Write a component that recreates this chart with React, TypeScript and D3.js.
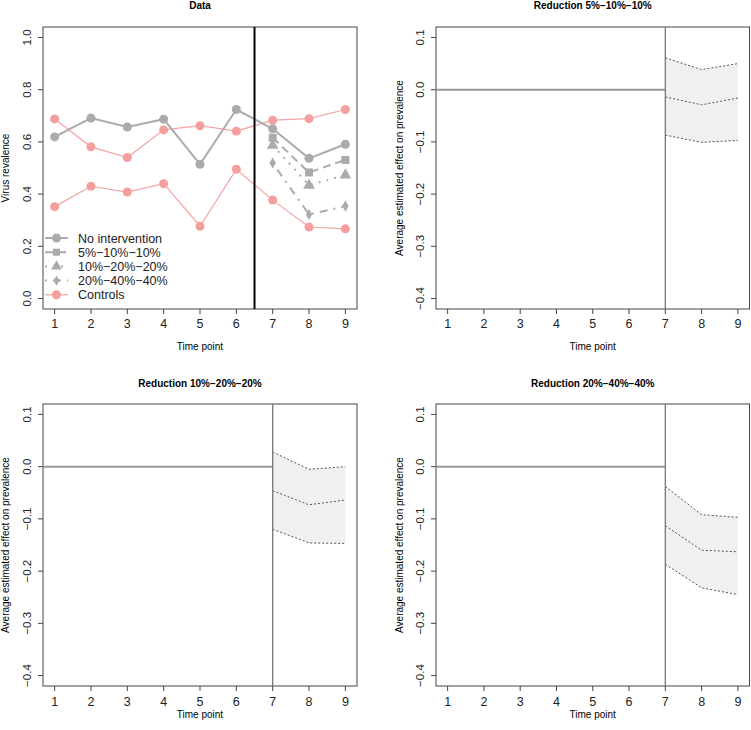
import React, { useEffect, useRef } from "react";
import * as d3 from "d3";

// time axis
const timePoints = [1, 2, 3, 4, 5, 6, 7, 8, 9];
const postTimes = [7, 8, 9];

// data panel values
const noIntervention = [0.619, 0.691, 0.657, 0.687, 0.514, 0.724, 0.65, 0.537, 0.591];
const red5 = [0.616, 0.483, 0.531];
const red10 = [0.587, 0.434, 0.473];
const red20 = [0.519, 0.322, 0.354];
const controlsA = [0.688, 0.581, 0.54, 0.646, 0.662, 0.641, 0.683, 0.689, 0.724];
const controlsB = [0.352, 0.43, 0.408, 0.44, 0.277, 0.495, 0.377, 0.274, 0.267];

// effect bands (upper, mean, lower) at times 7..9
const upper5 = [0.061, 0.0385, 0.05];
const mid5 = [-0.014, -0.029, -0.016];
const lower5 = [-0.087, -0.101, -0.097];
const upper10 = [0.028, -0.005, 0.0];
const mid10 = [-0.046, -0.073, -0.064];
const lower10 = [-0.12, -0.146, -0.147];
const upper20 = [-0.038, -0.092, -0.097];
const mid20 = [-0.113, -0.16, -0.163];
const lower20 = [-0.187, -0.232, -0.245];

const dataTicks = [0, 0.2, 0.4, 0.6, 0.8, 1.0];
const effectTicks = [0.1, 0, -0.1, -0.2, -0.3, -0.4];
const legendLabels = ["No intervention", "5%\u221210%\u221210%", "10%\u221220%\u221220%", "20%\u221240%\u221240%", "Controls"];

const FONT = "'Liberation Sans', Arial, Helvetica, sans-serif";
const GREY = "#ababab";
const PINK_LINE = "#f5a3a3";
const PINK_PT = "#f49e9e";

const fmt = (v: number) => {
    const s = v.toFixed(1);
    return s.startsWith("-") ? "\u2212" + s.slice(1) : s;
};

const App = () => {
    const ref = useRef<HTMLDivElement>(null);

    useEffect(() => {
        const width = 751;
        const height = 730;
        d3.select(ref.current).select("svg").remove();

        const svg = d3
            .select(ref.current)
            .append("svg")
            .attr("width", width)
            .attr("height", height)
            .style("display", "block")
            .style("font-family", FONT);

        svg.append("rect").attr("width", width).attr("height", height).attr("fill", "#fff");

        const drawFrame = (
            box: { x0: number; x1: number; y0: number; y1: number },
            x: d3.ScaleLinear<number, number>,
            y: d3.ScaleLinear<number, number>,
            yTicks: number[],
            opts: { title: string; yLabel: string; titleY: number; tickY: number; xLabelY: number; yLabelX: number }
        ) => {
            const g = svg.append("g");
            // x axis
            timePoints.forEach((t) => {
                g.append("line")
                    .attr("x1", x(t)).attr("x2", x(t))
                    .attr("y1", box.y1).attr("y2", box.y1 + 5)
                    .attr("stroke", "#444");
                g.append("text")
                    .attr("x", x(t)).attr("y", opts.tickY)
                    .attr("text-anchor", "middle")
                    .attr("font-size", 12.5)
                    .attr("fill", "#222")
                    .text(t);
            });
            // y axis
            yTicks.forEach((v) => {
                g.append("line")
                    .attr("x1", box.x0 - 5).attr("x2", box.x0)
                    .attr("y1", y(v)).attr("y2", y(v))
                    .attr("stroke", "#444");
                g.append("text")
                    .attr("transform", `translate(${box.x0 - 12},${y(v)}) rotate(-90)`)
                    .attr("text-anchor", "middle")
                    .attr("font-size", 11.5)
                    .attr("fill", "#222")
                    .text(fmt(v));
            });
            g.append("rect")
                .attr("x", box.x0).attr("y", box.y0)
                .attr("width", box.x1 - box.x0).attr("height", box.y1 - box.y0)
                .attr("fill", "none").attr("stroke", "#444").attr("stroke-width", 1);
            g.append("text")
                .attr("x", (box.x0 + box.x1) / 2).attr("y", opts.titleY)
                .attr("text-anchor", "middle")
                .attr("font-size", 10).attr("font-weight", "bold")
                .text(opts.title);
            g.append("text")
                .attr("x", (box.x0 + box.x1) / 2).attr("y", opts.xLabelY)
                .attr("text-anchor", "middle")
                .attr("font-size", 10)
                .text("Time point");
            g.append("text")
                .attr("transform", `translate(${opts.yLabelX},${(box.y0 + box.y1) / 2}) rotate(-90)`)
                .attr("text-anchor", "middle")
                .attr("font-size", 10)
                .text(opts.yLabel);
            return g;
        };

        // ---------- Data panel ----------
        const box0 = { x0: 43, x1: 357, y0: 27, y1: 309 };
        const x0 = d3.scaleLinear().domain([0.68, 9.32]).range([box0.x0, box0.x1]);
        const y0 = d3.scaleLinear().domain([-0.04, 1.04]).range([box0.y1, box0.y0]);
        const g0 = drawFrame(box0, x0, y0, dataTicks, {
            title: "Data", yLabel: "Virus revalence", titleY: 9, tickY: 328, xLabelY: 350, yLabelX: 9,
        });

        const line0 = d3.line<[number, number]>().x((d) => x0(d[0])).y((d) => y0(d[1]));

        [controlsA, controlsB].forEach((vals) => {
            const pts = timePoints.map((t, i) => [t, vals[i]] as [number, number]);
            g0.append("path").attr("d", line0(pts)).attr("fill", "none")
                .attr("stroke", PINK_LINE).attr("stroke-width", 1.2);
            g0.selectAll(null).data(pts).enter().append("circle")
                .attr("cx", (d) => x0(d[0])).attr("cy", (d) => y0(d[1])).attr("r", 4.5)
                .attr("fill", PINK_PT);
        });

        const series = [
            { times: timePoints, vals: noIntervention, dash: null, sym: d3.symbolCircle, size: 64 },
            { times: postTimes, vals: red5, dash: "8,5", sym: d3.symbolSquare, size: 64 },
            { times: postTimes, vals: red10, dash: "2,6", sym: d3.symbolTriangle, size: 60 },
            { times: postTimes, vals: red20, dash: "2,6,8,6", sym: d3.symbolDiamond, size: 36 },
        ];
        series.forEach((s) => {
            const pts = s.times.map((t, i) => [t, s.vals[i]] as [number, number]);
            g0.append("path").attr("d", line0(pts)).attr("fill", "none")
                .attr("stroke", GREY).attr("stroke-width", 2)
                .attr("stroke-dasharray", s.dash);
            g0.selectAll(null).data(pts).enter().append("path")
                .attr("transform", (d) => `translate(${x0(d[0])},${y0(d[1])})`)
                .attr("d", d3.symbol().type(s.sym).size(s.size)())
                .attr("fill", GREY);
        });

        g0.append("line")
            .attr("x1", x0(6.5)).attr("x2", x0(6.5))
            .attr("y1", box0.y0).attr("y2", box0.y1)
            .attr("stroke", "#000").attr("stroke-width", 2);

        // legend
        const legendItems = [
            { dash: null, sym: d3.symbolCircle, size: 64, col: GREY, lw: 2 },
            { dash: "8,5", sym: d3.symbolSquare, size: 50, col: GREY, lw: 2 },
            { dash: "2,6", sym: d3.symbolTriangle, size: 50, col: GREY, lw: 2 },
            { dash: "2,6,8,6", sym: d3.symbolDiamond, size: 30, col: GREY, lw: 2 },
            { dash: null, sym: d3.symbolCircle, size: 64, col: PINK_PT, lw: 1.2 },
        ];
        legendItems.forEach((it, i) => {
            const ly = 238 + i * 14.2;
            g0.append("line")
                .attr("x1", 45).attr("x2", 68).attr("y1", ly).attr("y2", ly)
                .attr("stroke", i === 4 ? PINK_LINE : it.col).attr("stroke-width", it.lw)
                .attr("stroke-dasharray", it.dash);
            g0.append("path")
                .attr("transform", `translate(56.5,${ly})`)
                .attr("d", d3.symbol().type(it.sym).size(it.size)())
                .attr("fill", it.col);
            g0.append("text")
                .attr("x", 78).attr("y", ly).attr("dy", "0.36em")
                .attr("font-size", 12.5).attr("fill", "#222")
                .text(legendLabels[i]);
        });

        // ---------- Effect panels ----------
        const effects = [
            { title: "Reduction 5%\u221210%\u221210%", box: { x0: 436, x1: 749.5, y0: 27, y1: 309 }, up: upper5, mid: mid5, lo: lower5, tickY: 328, xLabelY: 350, yLabelX: 403, titleY: 9 },
            { title: "Reduction 10%\u221220%\u221220%", box: { x0: 43, x1: 357, y0: 404, y1: 686 }, up: upper10, mid: mid10, lo: lower10, tickY: 706, xLabelY: 718, yLabelX: 9, titleY: 387 },
            { title: "Reduction 20%\u221240%\u221240%", box: { x0: 436, x1: 749.5, y0: 404, y1: 686 }, up: upper20, mid: mid20, lo: lower20, tickY: 706, xLabelY: 718, yLabelX: 403, titleY: 387 },
        ];

        effects.forEach((p) => {
            const x = d3.scaleLinear().domain([0.68, 9.32]).range([p.box.x0, p.box.x1]);
            const y = d3.scaleLinear().domain([-0.42, 0.12]).range([p.box.y1, p.box.y0]);
            const g = drawFrame(p.box, x, y, effectTicks, {
                title: p.title, yLabel: "Average estimated effect on prevalence",
                titleY: p.titleY, tickY: p.tickY, xLabelY: p.xLabelY, yLabelX: p.yLabelX,
            });

            const area = d3.area<number>()
                .x((t) => x(t))
                .y0((t, i) => y(p.lo[i]))
                .y1((t, i) => y(p.up[i]));
            g.append("path").attr("d", area(postTimes)).attr("fill", "#f0f0f0");

            [p.up, p.mid, p.lo].forEach((vals) => {
                const ln = d3.line<number>().x((t) => x(t)).y((t, i) => y(vals[i]));
                g.append("path").attr("d", ln(postTimes)).attr("fill", "none")
                    .attr("stroke", "#555").attr("stroke-width", 1)
                    .attr("stroke-dasharray", "2,2");
            });

            g.append("line")
                .attr("x1", p.box.x0).attr("x2", x(7))
                .attr("y1", y(0)).attr("y2", y(0))
                .attr("stroke", "#999").attr("stroke-width", 2);
            g.append("line")
                .attr("x1", x(7)).attr("x2", x(7))
                .attr("y1", p.box.y0).attr("y2", p.box.y1)
                .attr("stroke", "#777").attr("stroke-width", 1.3);
        });
    }, []);

    return <div ref={ref} style={{ position: "absolute", left: 0, top: 0 }}></div>;
};

export default App;
